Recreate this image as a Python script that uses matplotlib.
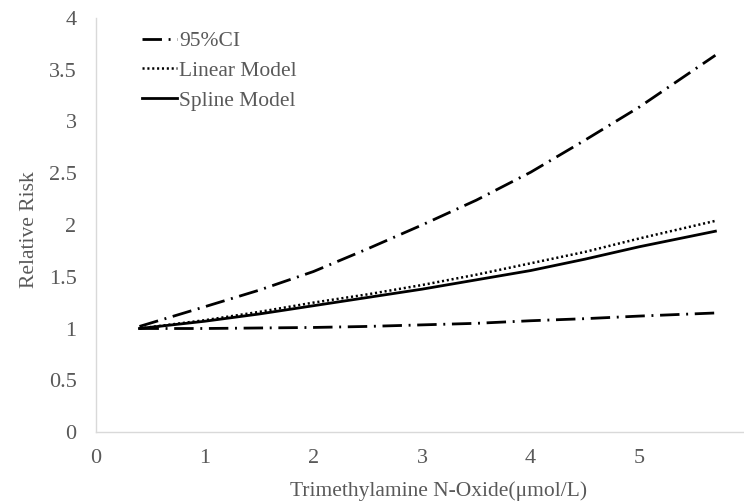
import matplotlib
matplotlib.use("Agg")
import matplotlib.pyplot as plt

plt.rcParams['font.family'] = ['Liberation Serif', 'DejaVu Serif']
plt.rcParams['lines.scale_dashes'] = False

x = [0.4, 1.0, 1.5, 2.0, 2.5, 3.0, 3.5, 4.0, 4.5, 5.0, 5.7]
ci_upper = [1.02, 1.21, 1.37, 1.55, 1.77, 2.00, 2.24, 2.51, 2.82, 3.14, 3.64]
ci_lower = [1.00, 1.00, 1.005, 1.01, 1.02, 1.035, 1.05, 1.075, 1.095, 1.12, 1.15]
linear = [1.00, 1.08, 1.16, 1.25, 1.33, 1.42, 1.52, 1.63, 1.74, 1.87, 2.04]
spline = [1.00, 1.07, 1.14, 1.22, 1.30, 1.38, 1.47, 1.56, 1.67, 1.79, 1.94]

xticks = [0, 1, 2, 3, 4, 5]
yticks = [0, 0.5, 1, 1.5, 2, 2.5, 3, 3.5, 4]
yticklabels = ['0', '0.5', '1', '1.5', '2', '2.5', '3', '3.5', '4']

gray = '#595959'
fig = plt.figure(figsize=(7.44, 5.03), dpi=100)
ax = fig.add_axes([96/744, 71/503, 652/744, 414/503])

dashdot = (0, (14.0, 4.8, 1.4, 4.8))
dotted = (0, (1.5, 2.0))
ax.plot(x, ci_upper, color='black', lw=2.0, linestyle=dashdot, label='95%CI')
ax.plot(x, ci_lower, color='black', lw=2.0, linestyle=dashdot)
ax.plot(x, linear, color='black', lw=1.8, linestyle=dotted, label='Linear Model')
ax.plot(x, spline, color='black', lw=2.0, linestyle='-', label='Spline Model')

ax.set_xlim(0, 6)
ax.set_ylim(0, 4)
ax.set_xticks(xticks)
ax.set_xticklabels([str(t) for t in xticks])
ax.set_yticks(yticks)
ax.set_yticklabels(yticklabels)
ax.tick_params(axis='both', length=0, labelsize=16, labelcolor=gray)
ax.tick_params(axis='y', pad=14)
ax.tick_params(axis='x', pad=12)

for s in ['top', 'right']:
    ax.spines[s].set_visible(False)
for s in ['left', 'bottom']:
    ax.spines[s].set_color('#d9d9d9')
    ax.spines[s].set_linewidth(1.0)

ax.set_ylabel('Relative Risk', fontsize=15.5, color=gray, labelpad=7)
ax.set_xlabel('Trimethylamine N-Oxide(μmol/L)', fontsize=15.5, color=gray, labelpad=10)
ax.xaxis.label.set_x(0.526)
ax.yaxis.label.set_y(0.489)

leg = ax.legend(loc='upper left', bbox_to_anchor=(0.047, 1.005), frameon=False,
                fontsize=15.5, handlelength=1.63, handletextpad=0.1, labelspacing=0.45,
                borderaxespad=0.3)
for t in leg.get_texts():
    t.set_color(gray)

fig.savefig('out.png', dpi=100)
